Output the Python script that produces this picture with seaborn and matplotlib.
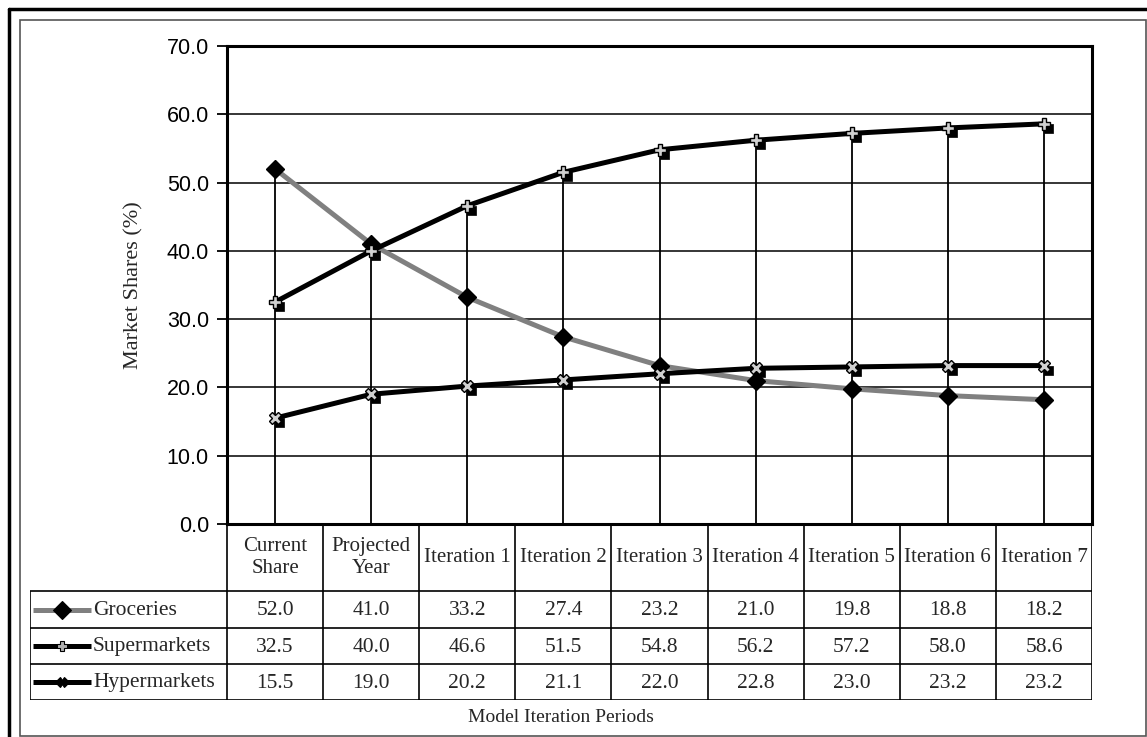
import numpy as np
import pandas as pd
import matplotlib
matplotlib.use('Agg')
import matplotlib.pyplot as plt
from matplotlib.path import Path
from matplotlib.patches import Rectangle
from matplotlib.lines import Line2D
import seaborn as sns

# dati
periodi = ['Current\nShare', 'Projected\nYear', 'Iteration 1', 'Iteration 2', 'Iteration 3',
           'Iteration 4', 'Iteration 5', 'Iteration 6', 'Iteration 7']
serie = ['Groceries', 'Supermarkets', 'Hypermarkets']
groceries = [52.0, 41.0, 33.2, 27.4, 23.2, 21.0, 19.8, 18.8, 18.2]
supermarkets = [32.5, 40.0, 46.6, 51.5, 54.8, 56.2, 57.2, 58.0, 58.6]
hypermarkets = [15.5, 19.0, 20.2, 21.1, 22.0, 22.8, 23.0, 23.2, 23.2]
y_ticks = [0, 10, 20, 30, 40, 50, 60, 70]

valori = {'Groceries': groceries, 'Supermarkets': supermarkets, 'Hypermarkets': hypermarkets}
df = pd.DataFrame([{'serie': s, 'pos': i, 'share': v}
                   for s in serie for i, v in enumerate(valori[s])])

sns.set_theme(style='white')
plt.rcParams['font.family'] = ['Liberation Serif', 'DejaVu Serif']

W, H = 1147, 737
fig = plt.figure(figsize=(W / 100, H / 100), dpi=100)

def fx(px):
    return px / W

def fy(py):
    return 1 - py / H

# cornici esterne
fig.add_artist(Line2D([fx(8.5), 1], [fy(8.5), fy(8.5)], color='black', lw=2.5))
fig.add_artist(Line2D([fx(8.5), fx(8.5)], [fy(8.5), 0], color='black', lw=2.5))
fig.add_artist(Rectangle((fx(19.5), fy(736)), fx(1146) - fx(19.5), fy(20) - fy(736),
                         fill=False, edgecolor='#555555', lw=1.2))

# area del grafico
ax = fig.add_axes([fx(227), fy(524), fx(1092) - fx(227), fy(46) - fy(524)])
ax.set_xlim(-0.5, len(periodi) - 0.5)
ax.set_ylim(0, 70)
ax.set_yticks(y_ticks)
ax.set_yticklabels([f'{t:.1f}' for t in y_ticks], fontfamily='Liberation Sans', fontsize=15.5)
ax.set_xticks([])
ax.tick_params(axis='y', direction='out', length=7, width=1.3, pad=6, left=True, colors='black')
for sp in ax.spines.values():
    sp.set_color('black')
    sp.set_linewidth(2.2)
for t in y_ticks[1:-1]:
    ax.axhline(t, color='black', lw=1.1, zorder=1)

# linee verticali di caduta
massimi = df.groupby('pos')['share'].max()
ax.vlines(massimi.index, 0, massimi.values, color='black', lw=1.3, zorder=2)

# marker quadrato spostato (stile Excel)
quadrato = Path([(0, 0), (1, 0), (1, -1), (0, -1), (0, 0)],
                [Path.MOVETO, Path.LINETO, Path.LINETO, Path.LINETO, Path.CLOSEPOLY])

stili = {
    'Groceries': dict(color='#808080', marker='D', ms=9.5, mfc='black', mec='black', square=False),
    'Supermarkets': dict(color='black', marker='P', ms=8, mfc='#d0d0d0', mec='black', square=True),
    'Hypermarkets': dict(color='black', marker='X', ms=8, mfc='#d0d0d0', mec='black', square=True),
}

for z, s in enumerate(serie):
    st = stili[s]
    sub = df[df['serie'] == s]
    sns.lineplot(data=sub, x='pos', y='share', color=st['color'], lw=3.6, ax=ax,
                 zorder=3 + 2 * z, legend=False)
    if st['square']:
        ax.plot(sub['pos'], sub['share'], ls='none', marker=quadrato, ms=13.5,
                mfc='black', mec='black', mew=0.5, zorder=3.5 + 2 * z)
    ax.plot(sub['pos'], sub['share'], ls='none', marker=st['marker'], ms=st['ms'],
            mfc=st['mfc'], mec=st['mec'], mew=1.0, zorder=3.6 + 2 * z)

ax.set_xlabel('')
ax.set_ylabel('Market Shares (%)', fontsize=16)
ax.yaxis.set_label_coords(-0.097, 0.5)

# tabella dati sotto il grafico
col_w = (1092 - 227) / len(periodi)
leg_w = (227 - 30) / col_w
righe = [0, 67, 104, 140, 176]
tab = fig.add_axes([fx(30), fy(700), fx(1092) - fx(30), fy(524) - fy(700)])
x0 = -0.5 - leg_w
x1 = len(periodi) - 0.5
tab.set_xlim(x0, x1)
tab.set_ylim(righe[-1], 0)
tab.axis('off')

lw_tab = 1.2
for k in range(len(periodi) + 1):
    tab.vlines(-0.5 + k, 0, righe[-1], color='black', lw=lw_tab)
tab.vlines(x0, righe[1], righe[-1], color='black', lw=lw_tab)
tab.hlines(righe[1:], x0, x1, color='black', lw=lw_tab)

for i, p in enumerate(periodi):
    tab.text(i, (righe[0] + righe[1]) / 2, p, ha='center', va='center', fontsize=15,
             linespacing=1.25)

for r, s in enumerate(serie):
    yc = (righe[r + 1] + righe[r + 2]) / 2
    for i, v in enumerate(valori[s]):
        tab.text(i, yc + 1, f'{v:.1f}', ha='center', va='center', fontsize=15.5)
    st = stili[s]
    a, b = x0 + 3 / col_w, x0 + 61 / col_w
    tab.plot([a, b], [yc, yc], color=st['color'], lw=3.6, solid_capstyle='butt')
    mk = {'Groceries': 'D', 'Supermarkets': 'P', 'Hypermarkets': 'X'}[s]
    ms = {'Groceries': 9.5, 'Supermarkets': 6.5, 'Hypermarkets': 7}[s]
    mfc = {'Groceries': 'black', 'Supermarkets': '#b0b0b0', 'Hypermarkets': 'black'}[s]
    tab.plot([(a + b) / 2], [yc], marker=mk, ms=ms, mfc=mfc, mec='black', mew=0.8)
    tab.text(x0 + 63 / col_w, yc + 1, s, ha='left', va='center', fontsize=15.5)

fig.text(fx(561), fy(717), 'Model Iteration Periods', ha='center', va='center', fontsize=14)

fig.savefig('out.png', dpi=100)
